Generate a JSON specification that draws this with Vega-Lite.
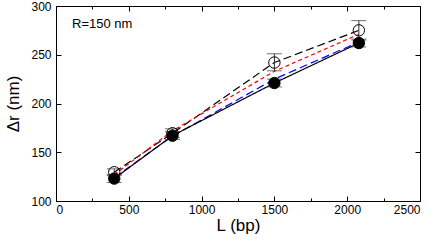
{
  "$schema": "https://vega.github.io/schema/vega-lite/v6.json",
  "width": 364,
  "height": 195,
  "autosize": "none",
  "padding": {"left": 56, "top": 6, "right": 16, "bottom": 47},
  "background": "white",
  "config": {
    "view": {"stroke": "black", "strokeWidth": 1},
    "font": "Liberation Sans",
    "axis": {"labelFont": "Liberation Sans", "titleFont": "Liberation Sans", "labelColor": "black", "titleColor": "black", "domainColor": "black", "tickColor": "black", "grid": false, "labelFontSize": 12, "titleFontSize": 17, "titleFontWeight": "normal"}
  },
  "datasets": {
    "pts": [
      {"series": "filled", "L": 400, "dr": 123, "lo": 119, "hi": 127},
      {"series": "filled", "L": 800, "dr": 167, "lo": 163, "hi": 171},
      {"series": "filled", "L": 1500, "dr": 221, "lo": 217, "hi": 225},
      {"series": "filled", "L": 2080, "dr": 262, "lo": 258, "hi": 266},
      {"series": "open", "L": 400, "dr": 129.5, "lo": 126, "hi": 133},
      {"series": "open", "L": 800, "dr": 169.5, "lo": 165, "hi": 174},
      {"series": "open", "L": 1500, "dr": 242, "lo": 233.5, "hi": 251},
      {"series": "open", "L": 2080, "dr": 275, "lo": 265, "hi": 285}
    ],
    "lines": [
      {"series": "open", "L": 400, "dr": 129.5},
      {"series": "open", "L": 800, "dr": 169.5},
      {"series": "open", "L": 1500, "dr": 242},
      {"series": "open", "L": 2080, "dr": 275},
      {"series": "red", "L": 400, "dr": 127},
      {"series": "red", "L": 800, "dr": 172},
      {"series": "red", "L": 1500, "dr": 233},
      {"series": "red", "L": 2080, "dr": 271},
      {"series": "blue", "L": 400, "dr": 124},
      {"series": "blue", "L": 800, "dr": 166.5},
      {"series": "blue", "L": 1500, "dr": 225},
      {"series": "blue", "L": 2080, "dr": 263},
      {"series": "filled", "L": 400, "dr": 123},
      {"series": "filled", "L": 800, "dr": 167},
      {"series": "filled", "L": 1500, "dr": 221},
      {"series": "filled", "L": 2080, "dr": 262}
    ],
    "note": [{"L": 110, "dr": 282, "label": "R=150 nm"}]
  },
  "layer": [
    {
      "encoding": {
        "x": {"field": "L", "type": "quantitative", "scale": {"domain": [0, 2500], "nice": false}, "axis": {"orient": "bottom", "title": "L (bp)", "values": [0, 250, 500, 750, 1000, 1250, 1500, 1750, 2000, 2250, 2500], "labelExpr": "datum.value % 500 == 0 ? datum.label : ''", "tickSize": {"condition": {"test": "datum.value % 500 == 0", "value": -5}, "value": -3}, "labelPadding": 8, "titlePadding": 2, "format": "d"}},
        "y": {"field": "dr", "type": "quantitative", "scale": {"domain": [100, 300], "nice": false, "zero": false}, "axis": {"orient": "left", "title": "Δr (nm)", "values": [100, 150, 200, 250, 300], "tickSize": -5, "labelPadding": 10, "titlePadding": 8}}
      },
      "layer": [
        {
          "data": {"name": "lines"},
          "mark": {"type": "line", "strokeWidth": 1.2},
          "encoding": {
            "color": {"field": "series", "type": "nominal", "scale": {"domain": ["open", "red", "blue", "filled"], "range": ["black", "#ff0000", "#0000ff", "black"]}, "legend": null},
            "strokeDash": {"field": "series", "type": "nominal", "scale": {"domain": ["open", "red", "blue", "filled"], "range": [[8, 4], [4, 3], [8, 4], [1, 0]]}, "legend": null}
          }
        },
        {
          "data": {"name": "pts"},
          "mark": {"type": "rule", "color": "#333", "strokeWidth": 1},
          "encoding": {"y": {"field": "lo", "type": "quantitative"}, "y2": {"field": "hi"}}
        },
        {
          "data": {"name": "pts"},
          "mark": {"type": "tick", "orient": "horizontal", "color": "#333", "thickness": 1, "size": 15},
          "encoding": {"y": {"field": "lo", "type": "quantitative"}}
        },
        {
          "data": {"name": "pts"},
          "mark": {"type": "tick", "orient": "horizontal", "color": "#333", "thickness": 1, "size": 15},
          "encoding": {"y": {"field": "hi", "type": "quantitative"}}
        },
        {
          "data": {"name": "pts"},
          "mark": {"type": "point", "filled": false, "strokeWidth": 1, "opacity": 1},
          "encoding": {
            "size": {"value": 130},
            "fill": {"field": "series", "type": "nominal", "scale": {"domain": ["filled", "open"], "range": ["black", "transparent"]}, "legend": null},
            "stroke": {"value": "black"}
          }
        }
      ]
    },
    {
      "data": {"name": "note"},
      "mark": {"type": "text", "align": "left", "baseline": "middle", "fontSize": 13, "font": "Liberation Sans", "color": "black"},
      "encoding": {
        "x": {"field": "L", "type": "quantitative", "scale": {"domain": [0, 2500], "nice": false}, "axis": {"orient": "top", "title": null, "labels": false, "domain": false, "values": [0, 250, 500, 750, 1000, 1250, 1500, 1750, 2000, 2250, 2500], "tickSize": {"condition": {"test": "datum.value % 500 == 0", "value": -5}, "value": -3}}},
        "y": {"field": "dr", "type": "quantitative", "scale": {"domain": [100, 300], "nice": false, "zero": false}, "axis": {"orient": "right", "title": null, "labels": false, "domain": false, "values": [100, 150, 200, 250, 300], "tickSize": -5}},
        "text": {"field": "label"}
      }
    }
  ],
  "resolve": {"axis": {"x": "independent", "y": "independent"}}
}
